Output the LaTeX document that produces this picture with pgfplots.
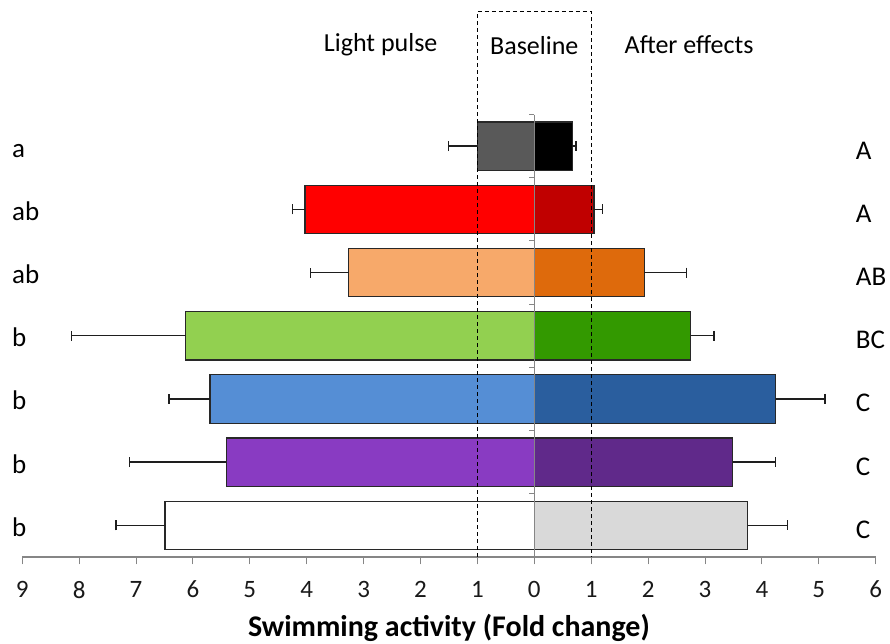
\documentclass[border=0pt]{standalone}
\usepackage{pgfplots}
\pgfplotsset{compat=1.18}
\usepackage{fontspec}
\setmainfont{Carlito}

\definecolor{axgray}{RGB}{134,134,134}
\definecolor{barline}{RGB}{40,40,40}
\definecolor{errcol}{RGB}{30,30,30}
% light pulse (left) and after-effect (right) fills
\definecolor{lpA}{RGB}{89,89,89}     \definecolor{aeA}{RGB}{0,0,0}
\definecolor{lpB}{RGB}{255,0,0}      \definecolor{aeB}{RGB}{192,0,0}
\definecolor{lpC}{RGB}{247,169,106}  \definecolor{aeC}{RGB}{222,106,12}
\definecolor{lpD}{RGB}{146,208,80}   \definecolor{aeD}{RGB}{51,153,0}
\definecolor{lpE}{RGB}{85,142,213}   \definecolor{aeE}{RGB}{42,94,158}
\definecolor{lpF}{RGB}{137,59,194}   \definecolor{aeF}{RGB}{96,41,138}
\definecolor{lpG}{RGB}{255,255,255}  \definecolor{aeG}{RGB}{217,217,217}

\pgfplotsset{
  lbar/.style={fill=#1, draw=barline, line width=1.2pt,
    error bars/.cd, x dir=minus, x explicit,
    error bar style={errcol, line width=1.4pt},
    error mark options={rotate=90, errcol, line width=1.4pt, mark size=5pt}},
  rbar/.style={fill=#1, draw=barline, line width=1.2pt,
    error bars/.cd, x dir=plus, x explicit,
    error bar style={errcol, line width=1.4pt},
    error mark options={rotate=90, errcol, line width=1.4pt, mark size=5pt}},
}
\tikzset{
  lletter/.style={font=\fontsize{27}{32}\selectfont, anchor=base west, inner sep=0pt, yshift=-11pt},
  rletter/.style={font=\fontsize{27}{32}\selectfont, anchor=base west, inner sep=0pt, yshift=-13pt},
}

\begin{document}
\begin{tikzpicture}
\begin{axis}[
  scale only axis, width=853.5pt, height=442.4pt,
  xmin=-9, xmax=6, ymin=0.5, ymax=7.5,
  axis x line=bottom, axis y line=none,
  x axis line style={-, axgray, line width=1.2pt},
  xtick={-9,...,6}, ytick=\empty,
  tick align=outside, major tick length=7.5pt,
  xtick style={axgray, line width=1pt},
  xticklabel={\pgfmathparse{abs(\tick)}\pgfmathprintnumber{\pgfmathresult}},
  xticklabel style={font=\fontsize{25}{30}\selectfont, text=black!90, yshift=-13pt},
  /pgf/number format/assume math mode=true,
  xbar, bar shift=0pt, bar width=48.5pt,
  clip=false,
]
% light pulse (plotted to the left)
\addplot[lbar=lpA] coordinates {(-1.00,7) +- (0.51,0)};
\addplot[lbar=lpB] coordinates {(-4.03,6) +- (0.22,0)};
\addplot[lbar=lpC] coordinates {(-3.26,5) +- (0.67,0)};
\addplot[lbar=lpD] coordinates {(-6.13,4) +- (2.00,0)};
\addplot[lbar=lpE] coordinates {(-5.70,3) +- (0.72,0)};
\addplot[lbar=lpF] coordinates {(-5.41,2) +- (1.70,0)};
\addplot[lbar=lpG] coordinates {(-6.49,1) +- (0.86,0)};
% after effects (plotted to the right)
\addplot[rbar=aeA] coordinates {(0.67,7) +- (0.06,0)};
\addplot[rbar=aeB] coordinates {(1.05,6) +- (0.15,0)};
\addplot[rbar=aeC] coordinates {(1.93,5) +- (0.75,0)};
\addplot[rbar=aeD] coordinates {(2.75,4) +- (0.41,0)};
\addplot[rbar=aeE] coordinates {(4.24,3) +- (0.87,0)};
\addplot[rbar=aeF] coordinates {(3.49,2) +- (0.75,0)};
\addplot[rbar=aeG] coordinates {(3.75,1) +- (0.70,0)};

% central axis with category separators
\draw[axgray, line width=1.2pt] (axis cs:0,0.5) -- (axis cs:0,7.5);
\pgfplotsinvokeforeach{1.5,2.5,3.5,4.5,5.5,6.5,7.5}{
  \draw[axgray, line width=1pt] (axis cs:0,#1) -- ([xshift=-5pt]axis cs:0,#1);
}
% baseline window
\draw[black, line width=1.3pt, dash pattern=on 4pt off 3pt]
  (axis cs:-1,0.5) -- (axis cs:-1,9.13) -- (axis cs:1,9.13) -- (axis cs:1,0.5);

% phase headings
\node[font=\fontsize{26}{31}\selectfont] at (axis cs:-2.70,8.60) {Light pulse};
\node[font=\fontsize{26}{31}\selectfont] at (axis cs:0,8.60) {Baseline};
\node[font=\fontsize{26}{31}\selectfont] at (axis cs:2.72,8.60) {After effects};

% significance letters
\node[lletter] at (axis cs:-9.18,7) {a};
\node[lletter] at (axis cs:-9.18,6) {ab};
\node[lletter] at (axis cs:-9.18,5) {ab};
\node[lletter] at (axis cs:-9.18,4) {b};
\node[lletter] at (axis cs:-9.18,3) {b};
\node[lletter] at (axis cs:-9.18,2) {b};
\node[lletter] at (axis cs:-9.18,1) {b};
\node[rletter] at (axis cs:5.65,7) {A};
\node[rletter] at (axis cs:5.65,6) {A};
\node[rletter] at (axis cs:5.65,5) {AB};
\node[rletter] at (axis cs:5.65,4) {BC};
\node[rletter] at (axis cs:5.65,3) {C};
\node[rletter] at (axis cs:5.65,2) {C};
\node[rletter] at (axis cs:5.65,1) {C};

% axis title
\node[font=\bfseries\fontsize{30}{36}\selectfont] at ([yshift=-71pt]rel axis cs:0.5,0) {Swimming activity (Fold change)};

\coordinate (SW) at (rel axis cs:0,0);
\coordinate (NE) at (rel axis cs:1,1);
\end{axis}
\pgfresetboundingbox
\path[use as bounding box] ([shift={(-22.2pt,-87pt)}]SW) rectangle ([shift={(14.3pt,114.6pt)}]NE);
\end{tikzpicture}
\end{document}
